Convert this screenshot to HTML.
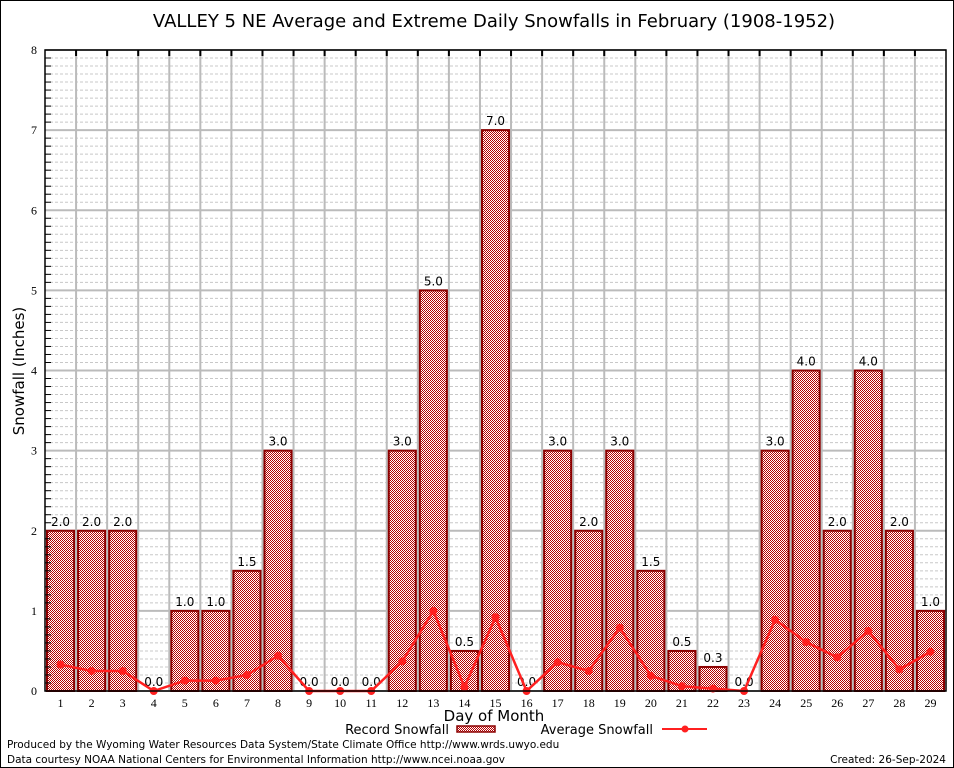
<!DOCTYPE html>
<html><head><meta charset="utf-8"><style>
body{margin:0;background:#fff}
svg{display:block;font-family:"DejaVu Sans","Liberation Sans",sans-serif}
</style></head><body>
<svg id="c" width="954" height="768" viewBox="0 0 954 768">
<defs>
<pattern id="chk" width="2" height="2" patternUnits="userSpaceOnUse">
<rect width="2" height="2" fill="#fff"/><rect width="1" height="1" fill="#b00000"/><rect x="1" y="1" width="1" height="1" fill="#c00000"/>
</pattern>
</defs>
<rect x="0.5" y="0.5" width="953" height="767" fill="#fff" stroke="#000"/>
<text x="494" y="27" font-size="18" text-anchor="middle">VALLEY 5 NE Average and Extreme Daily Snowfalls in February (1908-1952)</text>
<g id="grid"></g><g id="bars"></g><g id="line"></g><g id="axes"></g>
<text transform="translate(24,371) rotate(-90)" font-size="15" text-anchor="middle">Snowfall (Inches)</text>
<text x="494" y="721" font-size="15" text-anchor="middle">Day of Month</text>
<g>
<text x="449" y="734" font-size="13" text-anchor="end">Record Snowfall</text>
<rect x="457" y="726" width="38" height="6" fill="url(#chk)" stroke="#8b0000" stroke-width="1.5"/>
</g>
<g>
<text x="653" y="734" font-size="13" text-anchor="end">Average Snowfall</text>
<line x1="662" y1="729" x2="707" y2="729" stroke="#ff2020" stroke-width="2"/>
<circle cx="685" cy="729" r="3.5" fill="#ff2020"/>
</g>
<text x="7" y="748" font-size="10.5">Produced by the Wyoming Water Resources Data System/State Climate Office http://www.wrds.uwyo.edu</text>
<text x="7" y="763" font-size="10.5">Data courtesy NOAA National Centers for Environmental Information http://www.ncei.noaa.gov</text>
<text x="946" y="763" font-size="10.5" text-anchor="end">Created: 26-Sep-2024</text>
</svg>
<script>
const days=[1,2,3,4,5,6,7,8,9,10,11,12,13,14,15,16,17,18,19,20,21,22,23,24,25,26,27,28,29];
const recordVals=[2,2,2,0,1,1,1.5,3,0,0,0,3,5,0.5,7,0,3,2,3,1.5,0.5,0.3,0,3,4,2,4,2,1];
const avgVals=[0.33,0.25,0.25,0,0.13,0.13,0.2,0.44,0,0,0,0.37,1.0,0.05,0.92,0,0.36,0.25,0.79,0.19,0.06,0.03,0,0.89,0.61,0.42,0.75,0.27,0.49];
const yTicks=[0,1,2,3,4,5,6,7,8];
const L=45,R=946,T=50,B=691,yMax=8;
const slot=(R-L)/days.length;
const xC=i=>L+slot*(i+0.5);
const y=v=>B-(v/yMax)*(B-T);
const NS="http://www.w3.org/2000/svg";
function mk(tag,attrs,parent){const e=document.createElementNS(NS,tag);for(const k in attrs)e.setAttribute(k,attrs[k]);document.getElementById(parent).appendChild(e);return e;}
for(let v=0;v<yMax;v+=0.1){if(Math.abs(v-Math.round(v))<0.01)continue;
const g=mk('line',{x1:L,x2:R,y1:y(v),y2:y(v),stroke:'#c8c8c8','stroke-dasharray':'3,2','stroke-width':1},'grid');


const t=mk('line',{x1:L,x2:L+6,y1:y(v),y2:y(v),stroke:'#000'},'axes');

}
yTicks.forEach(v=>{const g=mk('line',{x1:L,x2:R,y1:y(v),y2:y(v),stroke:'#bbb','stroke-width':2},'grid');


const t=mk('text',{x:L-8,y:y(v)+4,'font-size':12,'text-anchor':'end','font-family':'Liberation Serif,serif'},'axes');t.textContent=v;

});
for(let i=1;i<days.length;i++){const xx=L+slot*i;
const g=mk('line',{x1:xx,x2:xx,y1:T,y2:B,stroke:'#bbb','stroke-width':2},'grid');


const t=mk('line',{x1:xx,x2:xx,y1:T,y2:T+6,stroke:'#000','stroke-width':2},'axes');

}
const fr=mk('rect',{x:L,y:T,width:R-L,height:B-T,fill:'none',stroke:'#000','stroke-width':1.5},'axes');


days.forEach((d,i)=>{const v=recordVals[i];const bw=slot-4;
if(v>0){const r=mk('rect',{x:xC(i)-bw/2,y:y(v),width:bw,height:B-y(v),fill:'url(#chk)',stroke:'#8b0000','stroke-width':2},'bars');

}
const t=mk('text',{x:xC(i),y:y(v)-5,'font-size':12,'text-anchor':'middle'},'bars');t.textContent=v.toFixed(1);


const xl=mk('text',{x:xC(i),y:B+16,'font-size':12,'text-anchor':'middle','font-family':'Liberation Serif,serif'},'axes');xl.textContent=d;

});
const pl=mk('polyline',{points:avgVals.map((v,i)=>xC(i)+','+y(v)).join(' '),fill:'none',stroke:'#ff2020','stroke-width':2.5},'line');


avgVals.forEach((v,i)=>{const c=mk('circle',{cx:xC(i),cy:y(v),r:4,fill:'#ff2020'},'line');

});
</script>
</body></html>
